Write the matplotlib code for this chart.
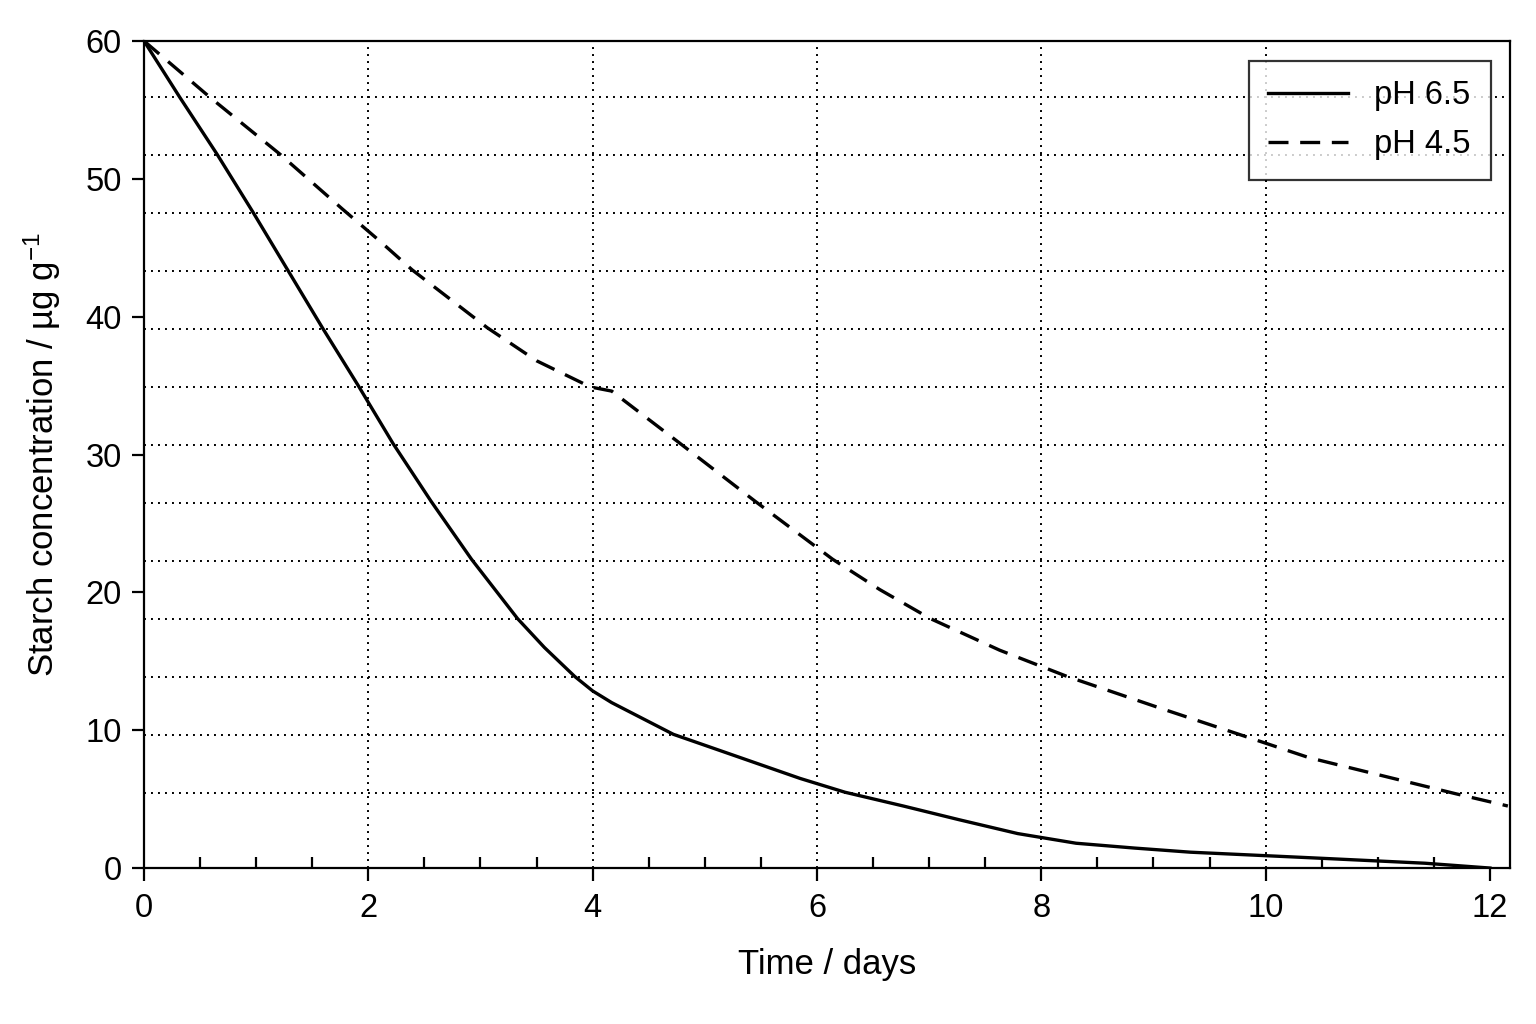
import numpy as np
import matplotlib
matplotlib.use("Agg")
import matplotlib.pyplot as plt
from matplotlib.ticker import MultipleLocator

# values (days, µg/g)
days_ph65 = [0.0, 0.32, 0.65, 0.97, 1.28, 1.59, 1.91, 2.22, 2.56, 2.92, 3.33,
             3.57, 3.84, 4.00, 4.17, 4.72, 5.25, 5.85, 6.25, 6.77, 7.27, 7.79,
             8.31, 8.83, 9.33, 10.39, 11.42, 12.0]
conc_ph65 = [60.0, 55.9, 51.8, 47.6, 43.4, 39.2, 35.0, 30.8, 26.6, 22.4, 18.1,
             16.0, 13.9, 12.85, 12.0, 9.7, 8.2, 6.5, 5.5, 4.5, 3.5, 2.5,
             1.8, 1.45, 1.15, 0.75, 0.35, 0.0]

days_ph45 = [0.0, 0.59, 1.21, 1.77, 2.10, 2.39, 3.06, 3.50, 3.98, 4.17, 4.78,
             5.45, 6.14, 6.56, 7.01, 7.63, 8.23, 9.06, 9.80, 10.39, 11.69, 12.16]
conc_ph45 = [60.0, 55.9, 51.8, 47.8, 45.5, 43.4, 39.2, 36.8, 34.9, 34.6, 30.8,
             26.6, 22.4, 20.2, 18.1, 15.8, 13.9, 11.6, 9.6, 8.0, 5.4, 4.5]

labels = ["pH 6.5", "pH 4.5"]

plt.rcParams["font.family"] = ["Liberation Sans", "DejaVu Sans"]
plt.rcParams["mathtext.fontset"] = "custom"
plt.rcParams["mathtext.rm"] = "Liberation Sans"
plt.rcParams["mathtext.it"] = "Liberation Sans:italic"

fig = plt.figure(figsize=(15.36, 10.24), dpi=100)
ax = fig.add_axes([0.09375, 0.1523, 0.8894, 0.8077])

# grid: vertical at the even days, horizontal at an independent spacing
for gx in [2, 4, 6, 8, 10]:
    ax.axvline(gx, color="black", lw=1.4, ls=(0, (1, 2.6)), zorder=1)
for gy in np.linspace(5.44, 55.94, 13):
    ax.axhline(gy, color="black", lw=1.4, ls=(0, (1, 2.6)), zorder=1)

ax.plot(days_ph65, conc_ph65, color="black", lw=2.4, label=labels[0], zorder=3)
ax.plot(days_ph45, conc_ph45, color="black", lw=2.4, ls=(0, (6, 3.5)),
        label=labels[1], zorder=3)

ax.set_xlim(0, 12.18)
ax.set_ylim(0, 60)
ax.xaxis.set_major_locator(MultipleLocator(2))
ax.xaxis.set_minor_locator(MultipleLocator(0.5))
ax.yaxis.set_major_locator(MultipleLocator(10))

ax.tick_params(axis="x", which="major", direction="out", length=9, width=1.6,
               labelsize=23.5, pad=9)
ax.tick_params(axis="x", which="minor", direction="in", length=8, width=1.6)
ax.tick_params(axis="y", which="major", direction="out", length=9, width=1.6,
               labelsize=23.5, pad=7)
for s in ax.spines.values():
    s.set_linewidth(1.6)

ax.set_xlabel("Time / days", fontsize=25, labelpad=17)
ax.set_ylabel("Starch concentration / µg g$^{-1}$", fontsize=25, labelpad=16)

leg = ax.legend(loc="upper right", fontsize=23.5, frameon=True, fancybox=False,
                edgecolor="black", handlelength=2.45, borderpad=0.6,
                labelspacing=0.55, borderaxespad=0.6, handletextpad=0.8)
leg.get_frame().set_linewidth(1.6)

fig.savefig("out.png", dpi=100, facecolor="white")
